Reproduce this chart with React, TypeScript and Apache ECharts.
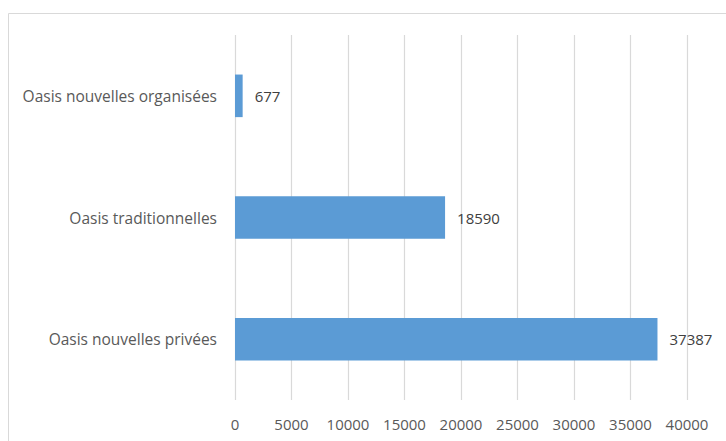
import React, { useEffect, useRef } from "react";
import * as echarts from "echarts";

const categories = ["Oasis nouvelles privées", "Oasis traditionnelles", "Oasis nouvelles organisées"];
const values = [37387, 18590, 677];
const axisMax = 40000;
const axisInterval = 5000;

export default function App() {
  const ref = useRef<HTMLDivElement>(null);
  useEffect(() => {
    if (!ref.current) return;
    const chart = echarts.init(ref.current, null, { renderer: "svg" });
    const font = "Open Sans";
    chart.setOption({
      animation: false,
      backgroundColor: "#ffffff",
      textStyle: { fontFamily: font },
      graphic: [
        {
          type: "rect",
          shape: { x: 8.5, y: 13.5, width: 900, height: 600 },
          style: { fill: "none", stroke: "#d9d9d9", lineWidth: 1 },
          silent: true,
        },
      ],
      grid: { left: 235, right: 39, top: 35, bottom: 41, containLabel: false },
      xAxis: {
        type: "value",
        min: 0,
        max: axisMax,
        interval: axisInterval,
        axisLine: { show: false },
        axisTick: { show: false },
        axisLabel: {
          color: "#595959",
          fontSize: 15,
          fontFamily: font,
          margin: 16,
          formatter: (v: number) => String(v),
        },
        splitLine: { show: true, lineStyle: { color: "#d9d9d9", width: 1.2 } },
      },
      yAxis: {
        type: "category",
        data: categories,
        axisLine: { show: false },
        axisTick: { show: false },
        axisLabel: { color: "#595959", fontSize: 15.5, fontFamily: font, margin: 18 },
        splitLine: { show: false },
      },
      series: [
        {
          type: "bar",
          data: values,
          barCategoryGap: "65%",
          itemStyle: { color: "#5b9bd5" },
          label: {
            show: true,
            position: "right",
            distance: 12,
            color: "#404040",
            fontSize: 15,
            fontFamily: font,
          },
        },
      ],
    });
    return () => chart.dispose();
  }, []);
  return (
    <div
      ref={ref}
      style={{ position: "absolute", left: 0, top: 0, width: 726, height: 441 }}
    />
  );
}
